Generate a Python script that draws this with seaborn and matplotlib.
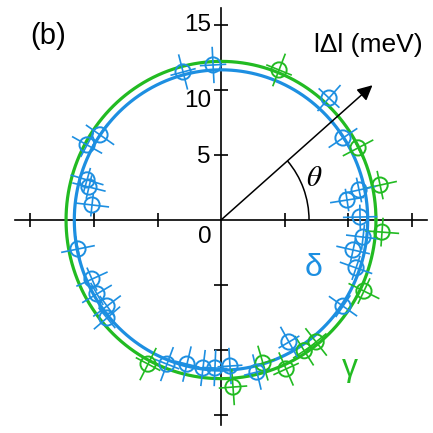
import numpy as np
import pandas as pd
import matplotlib
matplotlib.use("Agg")
import matplotlib.pyplot as plt
from matplotlib.patches import Arc
from matplotlib.collections import LineCollection
import seaborn as sns

# Gap magnitude |Δ| (meV) against Fermi-surface angle θ (deg), two bands
delta_theta = [104.7, 93.0, 151.3, 145.5, 163.7, 166.3, 173.5, 47.8, 33.3, 12.0,
               8.8, 1.2, -6.7, -12.5, -19.1, -34.6, -60.3, -76.4, -86.4, -92.4,
               -97.1, -103.6, -111.0, -140.0, -143.6, -149.8, -155.9, -168.8]
delta_gap = [11.77, 11.94, 12.02, 11.56, 10.99, 10.70, 10.22, 12.66, 11.49, 11.11,
             10.04, 10.95, 11.26, 10.65, 11.25, 11.67, 10.80, 12.03, 11.25, 11.39,
             11.47, 11.40, 11.87, 11.72, 11.15, 11.30, 11.13, 11.48]
delta_err = [1.4, 1.4, 1.35, 1.35, 1.35, 1.35, 1.35, 1.35, 1.35, 1.35,
             1.35, 1.35, 1.35, 1.35, 1.35, 1.35, 1.35, 1.4, 1.4, 1.4,
             1.4, 1.4, 1.4, 1.35, 1.35, 1.35, 1.35, 1.35]
delta_theta_err = [5, 5, 5, 5, 5, 5, 5, 5, 5, 5,
                   5, 5, 5, 5, 5, 5, 5, 5, 5, 5,
                   5, 5, 5, 5, 5, 5, 5, 5]

gamma_theta = [68.4, 27.2, 12.1, -4.2, -25.9, -51.4, -56.9, -65.9, -73.3, -85.8, -117.4]
gamma_gap = [12.41, 12.13, 12.81, 12.71, 12.51, 12.0, 12.0, 12.55, 11.49, 12.88, 12.48]
gamma_err = [1.35, 1.35, 1.35, 1.35, 1.35, 1.35, 1.35, 1.4, 1.4, 1.4, 1.4]
gamma_theta_err = [5, 5, 5, 5, 5, 5, 5, 5, 5, 5, 5]

# isotropic fits
delta_fit = 11.55
gamma_fit = 12.2

tick_values = [-15, -10, -5, 5, 10, 15]
y_labels = ["15", "10", "5"]

BLUE = "#1d8fe1"
GREEN = "#22bb22"

sns.set_style("white")
plt.rcParams["font.family"] = ["Liberation Sans", "DejaVu Sans"]
plt.rcParams["text.color"] = "black"

fig = plt.figure(figsize=(4.33, 4.33), dpi=100)
ax = fig.add_axes([0, 0, 1, 1])
ax.set_xlim(-17.40, 16.69)
ax.set_ylim(-16.38, 16.92)

# axes through the origin
for side in ("top", "right"):
    ax.spines[side].set_visible(False)
ax.spines["left"].set_position("zero")
ax.spines["bottom"].set_position("zero")
ax.spines["bottom"].set_bounds(-16.2, 16.2)
ax.spines["left"].set_bounds(-15.8, 16.3)
for s in ("left", "bottom"):
    ax.spines[s].set_color("black")
    ax.spines[s].set_linewidth(1.2)
ax.set_xticks(tick_values)
ax.set_yticks(tick_values)
ax.tick_params(direction="inout", length=10, width=1.2, color="black",
               labelleft=False, labelbottom=False, left=True, bottom=True)


def series_frame(theta, gap):
    t = np.deg2rad(np.asarray(theta))
    g = np.asarray(gap)
    return pd.DataFrame({"x": g * np.cos(t), "y": g * np.sin(t)})


def fit_frame(radius):
    t = np.linspace(0, 2 * np.pi, 361)
    return pd.DataFrame({"x": radius * np.cos(t), "y": radius * np.sin(t)})


def error_segments(theta, gap, err, theta_err):
    segs = []
    for th, g, e, te in zip(theta, gap, err, theta_err):
        t = np.deg2rad(th)
        ur = np.array([np.cos(t), np.sin(t)])
        ut = np.array([-np.sin(t), np.cos(t)])
        c = g * ur
        segs.append([c - e * ur, c + e * ur])
        half = g * np.deg2rad(te)
        segs.append([c - half * ut, c + half * ut])
    return segs


for fit, theta, gap, err, terr, col in (
    (gamma_fit, gamma_theta, gamma_gap, gamma_err, gamma_theta_err, GREEN),
    (delta_fit, delta_theta, delta_gap, delta_err, delta_theta_err, BLUE),
):
    sns.lineplot(data=fit_frame(fit), x="x", y="y", sort=False, estimator=None,
                 color=col, linewidth=2.3, ax=ax, zorder=3)
    ax.add_collection(LineCollection(error_segments(theta, gap, err, terr),
                                     colors=col, linewidths=1.2, zorder=4))
    sns.scatterplot(data=series_frame(theta, gap), x="x", y="y", marker="o",
                    s=120, facecolor="none", edgecolor=col, linewidth=1.4,
                    ax=ax, zorder=5)

ax.set_xlabel("")
ax.set_ylabel("")

# radial arrow and angle arc
arrow_r, arrow_th = 15.8, 41.0
tip = (arrow_r * np.cos(np.deg2rad(arrow_th)), arrow_r * np.sin(np.deg2rad(arrow_th)))
ax.annotate("", xy=tip, xytext=(0, 0),
            arrowprops=dict(arrowstyle="-|>,head_length=0.9,head_width=0.45",
                            color="black", lw=1.1, shrinkA=0, shrinkB=0), zorder=6)
ax.add_patch(Arc((0, 0), 2 * 6.93, 2 * 6.93, theta1=0, theta2=arrow_th,
                 color="black", lw=1.1, zorder=6))

# labels
for val, lab, yoff in zip([15, 10, 5], y_labels, [0, -0.85, -0.15]):
    ax.text(-0.8, val + yoff, lab, ha="right", va="center", fontsize=17.5)
ax.text(-1.25, -1.3, "0", ha="center", va="center", fontsize=17.5)
ax.text(-13.6, 14.15, "(b)", ha="center", va="center", fontsize=21)
ax.text(11.6, 13.46, "lΔl (meV)", ha="center", va="center", fontsize=19)
ax.text(7.32, 3.23, r"$\theta$", ha="center", va="center", fontsize=21,
        math_fontfamily="stix")
ax.text(7.32, -3.69, "δ", ha="center", va="center", fontsize=23, color=BLUE)
ax.text(10.16, -11.38, "γ", ha="center", va="center", fontsize=23, color=GREEN)

fig.savefig("out.png", dpi=100)
